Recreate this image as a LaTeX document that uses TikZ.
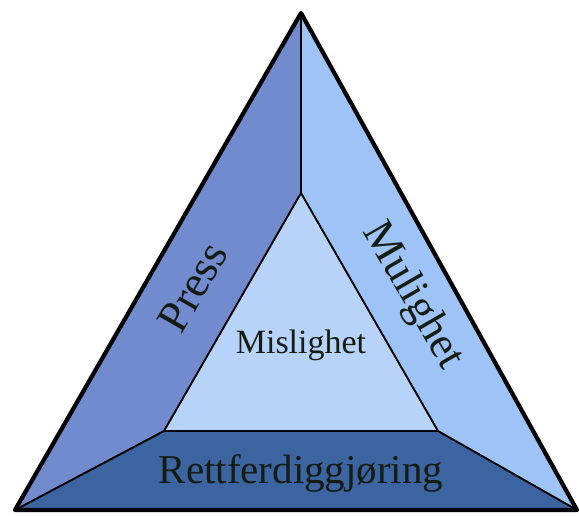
\documentclass[tikz,border=0pt]{standalone}
\usepackage{fontspec}
\setmainfont{Liberation Serif}
\usepackage{xcolor}
\definecolor{trleft}{RGB}{114,138,206}
\definecolor{trright}{RGB}{157,195,247}
\definecolor{trbottom}{RGB}{59,100,161}
\definecolor{trinner}{RGB}{184,211,249}
\definecolor{trtext}{RGB}{20,28,20}
\tikzstyle{face} = [draw=black, line width=1.9pt, line join=round]
\tikzstyle{edge} = [draw=black, line width=4.2pt, line join=round]
\tikzstyle{label} = [inner sep=0pt, text=trtext, font=\fontsize{41}{46}\selectfont]

\begin{document}
\begin{tikzpicture}[x=1pt, y=-1pt]
\useasboundingbox (0,0) rectangle (579,515);
% corners
\coordinate (top) at (301,13);
\coordinate (bl) at (15,510);
\coordinate (br) at (577,510);
\coordinate (itop) at (301,193);
\coordinate (ibl) at (164,431);
\coordinate (ibr) at (438,431);

% faces
\fill[trleft] (top) -- (itop) -- (ibl) -- (bl) -- cycle;
\fill[trright] (top) -- (br) -- (ibr) -- (itop) -- cycle;
\fill[trbottom] (bl) -- (ibl) -- (ibr) -- (br) -- cycle;
\fill[trinner] (itop) -- (ibl) -- (ibr) -- cycle;
\draw[face] (itop) -- (ibl) -- (ibr) -- cycle;
\draw[face] (top) -- (itop);
\draw[face] (bl) -- (ibl);
\draw[face] (br) -- (ibr);
\draw[edge] (top) -- (bl) -- (br) -- cycle;

% labels
\node[label, rotate=60, font=\fontsize{45}{50}\selectfont] (press) at (193,287) {Press};
\node[label, rotate=-60, font=\fontsize{44}{50}\selectfont] (mulighet) at (412,296) {Mulighet};
\node[label, anchor=base] (rett) at (301,483) {Rettferdiggjøring};
\node[label, anchor=base, font=\fontsize{34}{38}\selectfont] (misl) at (301,353) {Mislighet};
\end{tikzpicture}
\end{document}
